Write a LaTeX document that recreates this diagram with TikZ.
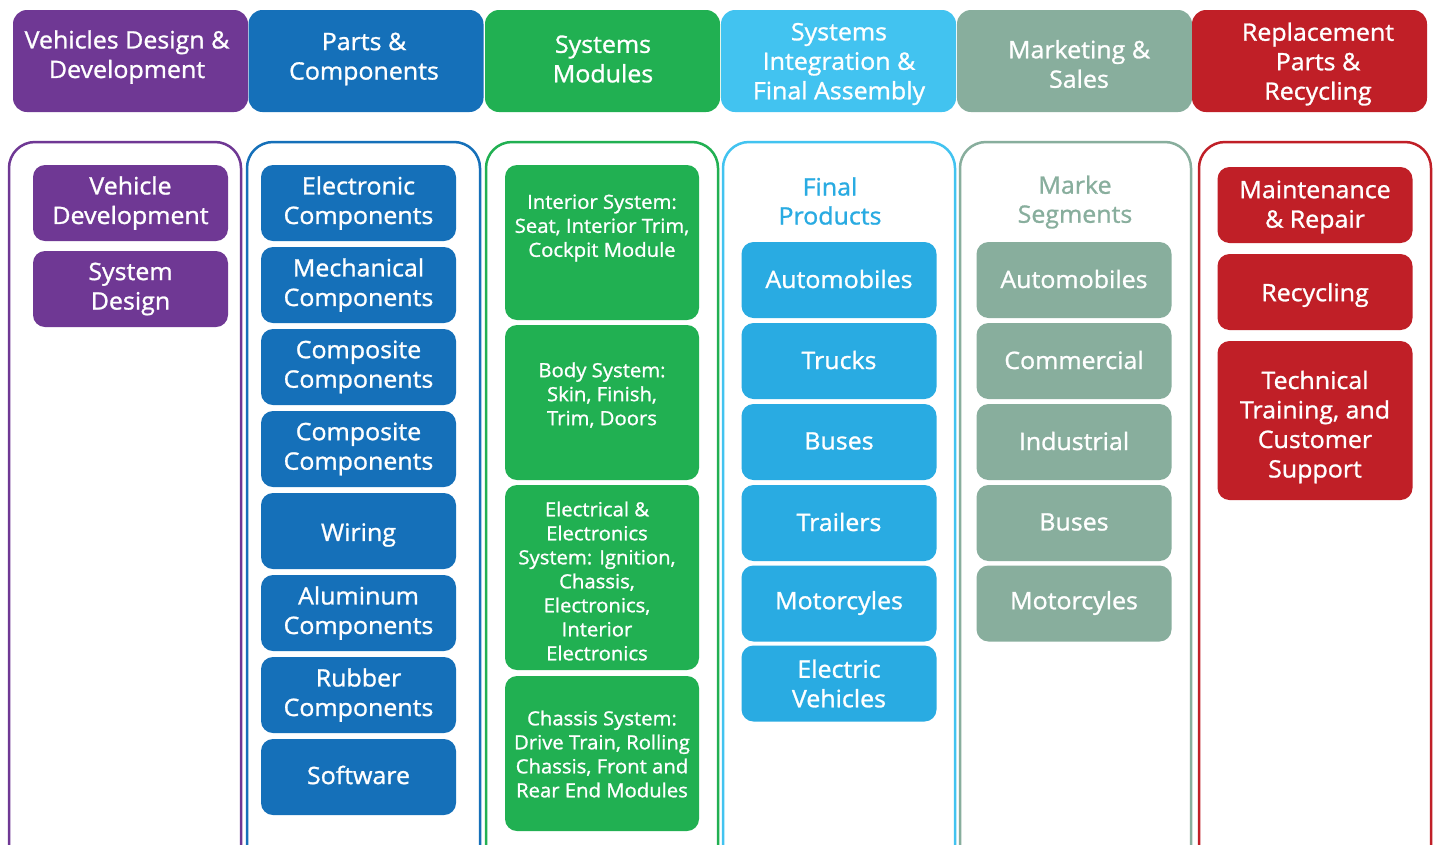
\documentclass[tikz,border=0pt]{standalone}
\usepackage{fontspec}
\setmainfont{Open Sans}[FakeBold=1.1,FakeStretch=1.04]
\definecolor{cPurple}{HTML}{6F3894}
\definecolor{cBlue}{HTML}{1570B9}
\definecolor{cGreen}{HTML}{21B052}
\definecolor{cSky}{HTML}{42C3F0}
\definecolor{cCyan}{HTML}{29ABE2}
\definecolor{cSage}{HTML}{88AE9D}
\definecolor{cRed}{HTML}{C01F27}
\tikzset{
  headbox/.style={fill=#1, draw=none, rounded corners=14pt, minimum width=235, minimum height=102, inner sep=0pt},
  headtext/.style={text=white, align=center, font=\fontsize{24}{29.5}\selectfont, inner sep=0pt},
  colframe/.style={draw=#1, line width=2.5pt, rounded corners=26pt, fill=none},
  itembox/.style={fill=#1, draw=none, rounded corners=12pt, minimum width=195, minimum height=76, inner sep=0pt,
     text=white, align=center, font=\fontsize{24}{29.5}\selectfont},
  modbox/.style={fill=cGreen, draw=none, rounded corners=12pt, minimum width=194, inner sep=0pt},
  modtext/.style={text=white, align=center, font=\fontsize{19.5}{24}\selectfont, inner sep=0pt},
  coltitle/.style={text=#1, align=center, font=\fontsize{24}{29}\selectfont, inner sep=0pt},
  plaintext/.style={text=white, align=center, font=\fontsize{24}{29.5}\selectfont, inner sep=0pt},
}
\begin{document}
\begin{tikzpicture}[x=1pt,y=-1pt]
\useasboundingbox (0,0) rectangle (1435,844);
\clip (0,0) rectangle (1435,844);
\fill[white] (0,0) rectangle (1435,844);

% column headers
\node[headbox=cPurple] (h1) at (130.5,61) {};
\node[headbox=cBlue]   (h2) at (366,61) {};
\node[headbox=cGreen]  (h3) at (602.5,61) {};
\node[headbox=cSky]    (h4) at (838.5,61) {};
\node[headbox=cSage]   (h5) at (1074.5,61) {};
\node[headbox=cRed]    (h6) at (1309.5,61) {};
\node[headtext] (h1t) at (127,57) {Vehicles Design \&\\Development};
\node[headtext] (h2t) at (364,59) {Parts \&\\Components};
\node[headtext] (h3t) at (603,59) {Systems\\Modules};
\node[headtext] (h4t) at (839,64) {Systems\\Integration \&\\Final Assembly};
\node[headtext] (h5t) at (1079,64) {Marketing \&\\Sales};
\node[headtext] (h6t) at (1318,64) {Replacement\\Parts \&\\Recycling};

% column frames (open at the bottom edge)
\draw[colframe=cPurple] (9,142) rectangle (241,900);
\draw[colframe=cBlue]   (247,142) rectangle (480,900);
\draw[colframe=cGreen]  (486,142) rectangle (718,900);
\draw[colframe=cSky]    (723,142) rectangle (955,900);
\draw[colframe=cSage]   (960,142) rectangle (1191,900);
\draw[colframe=cRed]    (1199,142) rectangle (1431,900);

% design & development
\node[itembox=cPurple] (vd) at (130.5,203) {Vehicle\\Development};
\node[itembox=cPurple] (sd) at (130.5,289) {System\\Design};

% parts & components
\node[itembox=cBlue] (p1) at (358.5,203) {Electronic\\Components};
\node[itembox=cBlue] (p2) at (358.5,285) {Mechanical\\Components};
\node[itembox=cBlue] (p3) at (358.5,367) {Composite\\Components};
\node[itembox=cBlue] (p4) at (358.5,449) {Composite\\Components};
\node[itembox=cBlue] (p5) at (358.5,531) {};
\node[plaintext] (p5t) at (358.5,535) {Wiring};
\node[itembox=cBlue] (p6) at (358.5,613) {Aluminum\\Components};
\node[itembox=cBlue] (p7) at (358.5,695) {Rubber\\Components};
\node[itembox=cBlue] (p8) at (358.5,777) {};
\node[plaintext] (p8t) at (358.5,775) {Software};

% system modules
\node[modbox, minimum height=155] (m1) at (602,242.5) {};
\node[modbox, minimum height=155] (m2) at (602,402.5) {};
\node[modbox, minimum height=185] (m3) at (602,577.5) {};
\node[modbox, minimum height=155] (m4) at (602,753.5) {};
\node[modtext] (m1t) at (602,228) {Interior System:\\Seat, Interior Trim,\\Cockpit Module};
\node[modtext] (m2t) at (602,395) {Body System:\\Skin, Finish,\\Trim, Doors};
\node[modtext] (m3t) at (597,581) {Electrical \&\\Electronics\\System: Ignition,\\Chassis,\\Electronics,\\Interior\\Electronics};
\node[modtext] (m4t) at (602,754) {Chassis System:\\Drive Train, Rolling\\Chassis, Front and\\Rear End Modules};

% final products
\node[coltitle=cCyan] (fp) at (830,201) {Final\\Products};
\node[itembox=cCyan] (f1) at (839,280) {};
\node[plaintext] (f1t) at (839,279) {Automobiles};
\node[itembox=cCyan] (f2) at (839,361) {};
\node[plaintext] (f2t) at (839,360) {Trucks};
\node[itembox=cCyan] (f3) at (839,442) {};
\node[plaintext] (f3t) at (839,441) {Buses};
\node[itembox=cCyan] (f4) at (839,523) {};
\node[plaintext] (f4t) at (839,522) {Trailers};
\node[itembox=cCyan] (f5) at (839,603.5) {};
\node[plaintext] (f5t) at (839,603) {Motorcyles};
\node[itembox=cCyan] (f6) at (839,683.5) {Electric\\Vehicles};

% market segments
\node[coltitle=cSage] (ms) at (1075,202) {Marke\\Segments};
\node[itembox=cSage] (s1) at (1074,280) {};
\node[plaintext] (s1t) at (1074,279) {Automobiles};
\node[itembox=cSage] (s2) at (1074,361) {};
\node[plaintext] (s2t) at (1074,360) {Commercial};
\node[itembox=cSage] (s3) at (1074,442) {};
\node[plaintext] (s3t) at (1074,441) {Industrial};
\node[itembox=cSage] (s4) at (1074,523) {};
\node[plaintext] (s4t) at (1074,522) {Buses};
\node[itembox=cSage] (s5) at (1074,603.5) {};
\node[plaintext] (s5t) at (1074,603) {Motorcyles};

% replacement parts & recycling
\node[itembox=cRed] (r1) at (1315,205) {};
\node[plaintext] (r1t) at (1315,207) {Maintenance\\\& Repair};
\node[itembox=cRed] (r2) at (1315,292) {};
\node[plaintext] (r2t) at (1315,295) {Recycling};
\node[itembox=cRed, minimum height=159] (r3) at (1315,420.5) {};
\node[plaintext] (r3t) at (1315,427) {Technical\\Training, and\\Customer\\Support};
\end{tikzpicture}
\end{document}
